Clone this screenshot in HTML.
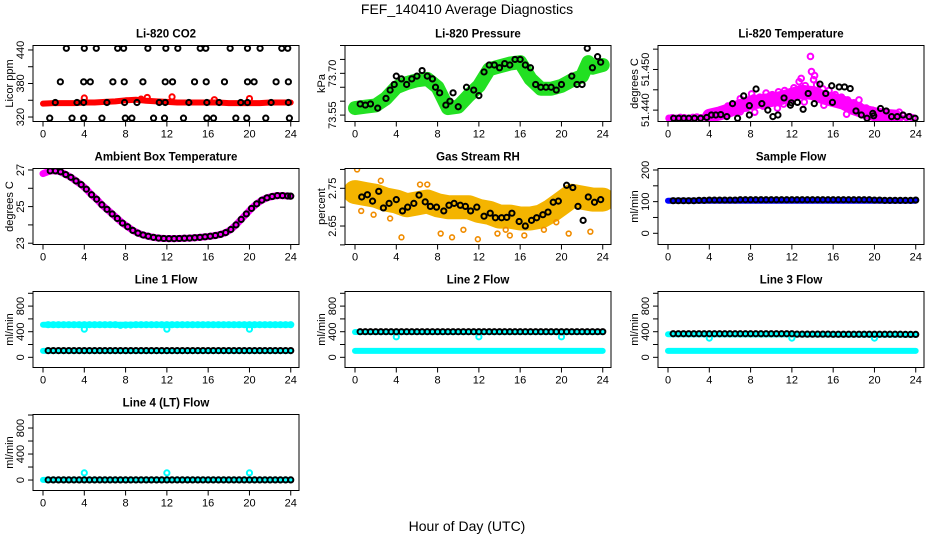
<!DOCTYPE html>
<html><head><meta charset="utf-8"><style>
html,body{margin:0;padding:0;background:#fff;}
svg{display:block;font-family:"Liberation Sans",Arial,sans-serif;}
</style></head><body>
<svg id="chart" width="936" height="540" viewBox="0 0 936 540" xmlns="http://www.w3.org/2000/svg">
<text x="467" y="14" font-size="14" text-anchor="middle">FEF_140410  Average Diagnostics</text>
<text x="467" y="531" font-size="14" text-anchor="middle">Hour of Day (UTC)</text>
</svg>
<script>
// ---------- data ----------
const xTicks=[0,4,8,12,16,20,24];
// CO2
const co2Hours440=[2.26,4.0,5.16,7.23,7.81,10.16,11.9,13.06,15.23,15.77,18.13,19.81,21.03,23.13,23.71];
const co2Hours380=[1.68,3.94,4.58,6.77,7.87,9.68,11.84,12.55,14.68,15.81,17.58,19.81,20.45,22.58,23.77];
const co2Hours346=[1.19,3.29,3.94,6.19,7.9,9.1,11.26,11.84,14.13,15.87,17.06,19.16,19.81,22.1,23.77];
const co2Hours318=[0.65,2.81,3.94,5.71,7.97,8.61,10.71,11.77,13.61,15.87,16.52,18.68,19.74,21.58,23.87];
const co2Levels=[443,383,346,318];
const co2BandHours=[0,1,2,3,4,5,6,7,8,9,10,11,12,13,14,15,16,17,18,19,20,21,22,23,24];
const co2Band=[344,345,345,345,346,346,347,348,350,351,349,348,347,346,346,346,346,346,345,345,345,345,346,346,346];
const co2RedHours=[4.0,9.5,10.1,12.5,16.6,20.0];
const co2Red=[354,352,355,356,351,353];
// Pressure
const presHours=[0.5,1,1.5,2.2,3,3.4,3.8,4,4.5,5,5.5,6,6.5,7,7.5,7.8,8.2,8.8,9.2,9.5,10,10.8,11.5,12,12.5,13,13.5,14,14.5,15,15.5,16,16.5,17,17.5,18,18.5,19,19.5,20,21,21.5,22,22.5,23,23.5,23.8];
const presVals=[73.59,73.586,73.59,73.575,73.61,73.64,73.66,73.69,73.68,73.66,73.68,73.69,73.71,73.69,73.68,73.65,73.63,73.586,73.60,73.63,73.58,73.65,73.64,73.62,73.705,73.73,73.73,73.72,73.735,73.73,73.75,73.75,73.73,73.72,73.66,73.65,73.65,73.65,73.64,73.66,73.69,73.66,73.66,73.79,73.72,73.76,73.74];
const presBandHours=[0,1,2,3,4,5,6,7,8,9,10,11,12,13,14,15,16,17,18,19,20,21,22,22.6,23,24];
const presBand=[73.575,73.58,73.585,73.61,73.65,73.665,73.675,73.68,73.65,73.575,73.58,73.62,73.655,73.715,73.725,73.735,73.74,73.68,73.645,73.645,73.655,73.675,73.69,73.74,73.72,73.73];
// Temperature
const tempHours=[0.55,1.04,1.53,2.02,2.57,3.16,3.75,4.2,4.63,5.11,5.7,6.25,6.74,7.33,7.88,7.88,8.53,9.09,9.67,10.16,10.65,11.24,11.86,11.95,12.54,13.09,13.58,14.17,14.72,15.28,15.86,15.93,16.58,17.1,17.65,18.21,18.73,19.28,19.84,19.93,20.59,21.14,21.66,22.21,22.77,23.36,23.94];
const tempVals=[51.4380,51.4380,51.4380,51.4380,51.4380,51.4380,51.4382,51.4388,51.4388,51.4389,51.4384,51.4416,51.4380,51.4435,51.4411,51.4388,51.4452,51.4416,51.4400,51.4384,51.4388,51.4430,51.4412,51.4418,51.4419,51.4402,51.4441,51.4416,51.4464,51.4441,51.4460,51.4419,51.4457,51.4457,51.4453,51.4398,51.4388,51.4380,51.4392,51.4386,51.4404,51.4398,51.4384,51.4384,51.4388,51.4384,51.4380];
const tempMagHours=[0.1,0.4,0.8,1.2,1.6,2.0,2.4,2.8,3.2,3.6,4.0,4.3,4.6,4.9,5.2,5.5,5.8,6.1,6.4,6.7,7.0,7.3,7.6,7.9,8.1,8.3,8.6,8.9,9.2,9.5,9.8,10.1,10.4,10.7,11.0,11.3,11.6,11.9,12.2,12.4,12.7,13.0,13.3,13.6,13.8,14.1,14.4,14.7,15.0,15.3,15.6,15.9,16.2,16.5,16.8,17.1,17.4,17.7,18.0,18.3,18.6,18.9,19.2,19.5,19.8,20.1,20.4,20.7,21.0,21.3,21.6,21.9,22.2,22.5,22.8,23.1,23.4,23.7,6.0,7.0,8.4,9.4,10.6,11.2,12.9,13.2,14.2,15.1,16.0,17.3,18.5,19.0,20.5,22.4,5.0,9.9,12.0,13.9];
const tempMag=[51.4380,51.4381,51.4380,51.4382,51.4381,51.4380,51.4382,51.4383,51.4381,51.4384,51.4386,51.4392,51.4383,51.4398,51.4390,51.4386,51.4410,51.4395,51.4402,51.4412,51.4396,51.4418,51.4405,51.4425,51.4440,51.4430,51.4415,51.4432,51.4410,51.4442,51.4425,51.4438,51.4420,51.4445,51.4430,51.4448,51.4425,51.4440,51.4455,51.4432,51.4470,51.4450,51.4460,51.4445,51.4532,51.4475,51.4462,51.4440,51.4452,51.4430,51.4448,51.4420,51.4438,51.4415,51.4432,51.4410,51.4425,51.4405,51.4418,51.4398,51.4410,51.4395,51.4405,51.4390,51.4400,51.4388,51.4395,51.4386,51.4392,51.4384,51.4390,51.4382,51.4388,51.4381,51.4386,51.4382,51.4384,51.4381,51.4400,51.4428,51.4395,51.4430,51.4405,51.4415,51.4478,51.4420,51.4485,51.4412,51.4435,51.4390,51.4425,51.4400,51.4385,51.4395,51.4398,51.4436,51.4428,51.4495];
const tempBandHours=[4,5,6,7,8,9,10,11,12,13,14,15,16,17,18,19,20,21,22];
const tempBand=[51.4386,51.4392,51.4400,51.4410,51.4418,51.4422,51.4425,51.4430,51.4438,51.4445,51.4442,51.4432,51.4425,51.4418,51.4405,51.4396,51.4390,51.4386,51.4384];
// Ambient box temperature
const ambHours=[0,0.7,1.2,1.7,2.2,2.7,3.2,3.7,4.2,4.7,5.2,5.7,6.2,6.7,7.2,7.7,8.2,8.7,9.2,9.7,10.2,10.7,11.2,11.7,12.2,12.7,13.2,13.7,14.2,14.7,15.2,15.7,16.2,16.7,17.2,17.7,18.2,18.7,19.2,19.7,20.2,20.7,21.2,21.7,22.2,22.7,23.2,23.7,24];
const ambVals=[26.8,26.95,26.95,26.9,26.75,26.6,26.4,26.2,25.95,25.65,25.4,25.1,24.85,24.6,24.35,24.1,23.9,23.7,23.55,23.45,23.38,23.32,23.28,23.26,23.25,23.25,23.26,23.27,23.28,23.3,23.32,23.35,23.38,23.42,23.48,23.58,23.75,24.0,24.3,24.6,24.9,25.15,25.35,25.48,25.55,25.6,25.6,25.58,25.57];
// Gas stream RH
const rhHours=[0.65,1.2,1.7,2.3,2.75,3.3,4,4.6,5.1,5.7,6.2,6.8,7.3,7.9,8.6,9.1,9.6,10.2,10.7,11.2,11.8,12.5,13.1,13.6,14.2,14.7,15.2,15.9,16.5,17.1,17.6,18.2,18.7,19.2,19.7,20.5,21.1,21.6,22.1,22.6,23.2,23.8];
const rhVals=[2.727,2.733,2.716,2.742,2.698,2.71,2.72,2.69,2.70,2.71,2.732,2.714,2.702,2.70,2.69,2.705,2.71,2.705,2.702,2.69,2.70,2.676,2.684,2.672,2.672,2.673,2.684,2.662,2.650,2.665,2.672,2.680,2.687,2.713,2.716,2.758,2.752,2.702,2.665,2.727,2.713,2.720];
const rhBandHours=[0,1,2,3,4,5,6,7,8,9,10,11,12,13,14,15,16,17,18,19,20,21,22,23,24];
const rhBand=[2.74,2.735,2.73,2.72,2.715,2.705,2.71,2.715,2.705,2.7,2.7,2.7,2.69,2.685,2.675,2.675,2.67,2.67,2.675,2.69,2.71,2.73,2.725,2.72,2.72];
const rhOutHours=[0.2,0.6,1.8,4.5,6.3,8.3,9.4,11.9,13.8,15.0,16.4,18.3,20.7,22.8,2.5,7.0,3.4,10.5,14.6,19.5];
const rhOut=[2.80,2.69,2.68,2.62,2.76,2.63,2.62,2.615,2.63,2.625,2.625,2.64,2.63,2.635,2.77,2.76,2.67,2.64,2.64,2.66];
// Flows
const flowHours=[0.5,1,1.5,2,2.5,3,3.5,4,4.5,5,5.5,6,6.5,7,7.5,8,8.5,9,9.5,10,10.5,11,11.5,12,12.5,13,13.5,14,14.5,15,15.5,16,16.5,17,17.5,18,18.5,19,19.5,20,20.5,21,21.5,22,22.5,23,23.5,24];
const sampleFlow=[103,103,103,103,103,104,104,105,105,105,105,105,105,106,106,106,106,106,106,106,106,106,106,106,106,106,106,106,106,106,106,106,106,106,106,106,106,106,106,105,105,104,104,104,104,104,104,105];
const line1Black=[105,105,105,105,105,105,105,105,105,105,105,105,105,105,105,105,105,105,105,105,105,105,105,105,105,105,105,105,105,105,105,105,105,105,105,105,105,105,105,105,105,105,105,105,105,105,105,105];
const line1CyanHi=[510,510,510,510,510,510,510,510,510,510,510,510,510,510,500,505,505,510,510,510,510,510,510,510,510,510,510,510,510,510,510,510,510,510,510,510,510,510,510,510,510,510,510,510,510,510,510,510];
const line2Black=[400,400,400,400,400,400,400,400,400,400,400,400,400,400,400,400,400,400,400,400,400,400,400,400,400,400,400,400,400,400,400,400,400,400,400,400,400,400,400,400,400,400,400,400,400,400,400,400];
const line3Black=[368,368,368,368,368,368,368,368,368,368,368,368,368,368,368,368,368,368,368,368,368,368,368,368,362,362,362,362,362,362,362,360,360,360,360,360,360,360,360,360,360,360,360,360,360,358,358,358];
const line4Black=[2,2,2,2,2,2,2,2,2,2,2,2,2,2,2,2,2,2,2,2,2,2,2,2,2,2,2,2,2,2,2,2,2,2,2,2,2,2,2,2,2,2,2,2,2,2,2,2];
const lowCyan=[100,100];
const dipHours=[4,12,20];
const line1Dips=[440,440,440];
const line2Dips=[320,320,320];
const line3Dips=[300,300,300];
const line4Spikes=[110,110,110];

// ---------- drawing ----------
const NS="http://www.w3.org/2000/svg";
const svg=document.getElementById('chart');
const XL=-0.97,XR=24.8,W=266,H=76;
const SW=2;
const colX=[33,345,658],rowY=[45.5,168.5,291.5,414.5];
function mk(tag,attrs,parent){const e=document.createElementNS(NS,tag);for(const k in attrs)e.setAttribute(k,attrs[k]);(parent||svg).appendChild(e);return e;}
function panel(name,col,row,y0,y1,title,ylab,ticks,labels){
  const L=colX[col],T=rowY[row];
  const g=mk('g',{});
  
  
  const sx=h=>L+(h-XL)/(XR-XL)*W;
  const sy=v=>T+H-(v-y0)/(y1-y0)*H;
  const clip='clip-'+name;
  const cp=mk('clipPath',{id:clip},g);mk('rect',{x:L,y:T,width:W,height:H},cp);
  const data=mk('g',{'clip-path':'url(#'+clip+')'},g);
  
  
  const box=mk('rect',{x:L,y:T,width:W,height:H,fill:'none',stroke:'#000','stroke-width':1},g);
  
  
  const t=mk('text',{x:L+W/2,y:T-8,'font-size':11.5,'font-weight':'bold','text-anchor':'middle'},g);
  t.textContent=title;
  
  
  const yl=mk('text',{transform:'translate('+(L-20)+','+(T+H/2)+') rotate(-90)','font-size':11,'text-anchor':'middle'},g);
  yl.textContent=ylab;
  
  
  const xa=mk('g',{},g);
  
  
  xTicks.forEach(h=>{mk('line',{x1:sx(h),x2:sx(h),y1:T+H,y2:T+H+5,stroke:'#000'},xa);
    const tl=mk('text',{x:sx(h),y:T+H+16,'font-size':11,'text-anchor':'middle'},xa);tl.textContent=h;
    
    });
  const ya=mk('g',{},g);
  
  
  ticks.forEach(v=>mk('line',{x1:L,x2:L-5,y1:sy(v),y2:sy(v),stroke:'#000'},ya));
  labels.forEach(v=>{const tl=mk('text',{transform:'translate('+(L-9)+','+sy(v)+') rotate(-90)','font-size':11,'text-anchor':'middle'},ya);tl.textContent=v;
    
    });
  return {sx,sy,g:data};
}
function pts(p,hs,vs,color,r,sw,name){const gg=mk('g',{},p.g);
  
  
  hs.forEach((h,i)=>mk('circle',{cx:p.sx(h),cy:p.sy(vs[i]),r:r,fill:'none',stroke:color,'stroke-width':sw},gg));}
function band(p,hs,vs,color,w,name){const d=hs.map((h,i)=>(i?'L':'M')+p.sx(h).toFixed(1)+','+p.sy(vs[i]).toFixed(1)).join('');
  const e=mk('path',{d:d,fill:'none',stroke:color,'stroke-width':w,'stroke-linejoin':'round','stroke-linecap':'round'},p.g);
  
  }
const rep=(arr,v)=>arr.map(()=>v);

let p=panel('co2',0,0,312,448,'Li-820 CO2','Licor ppm',[320,350,380,410,440],[320,380,440]);
band(p,co2BandHours,co2Band,'#ff0000',6,'co2-red-band');
pts(p,co2RedHours,co2Red,'#ff0000',2.6,SW,'co2-red-points');
[co2Hours440,co2Hours380,co2Hours346,co2Hours318].forEach((hs,k)=>pts(p,hs,rep(hs,co2Levels[k]),'#000',2.6,SW,'co2-black-points'));

p=panel('pressure',1,0,73.527,73.80,'Li-820 Pressure','kPa',[73.55,73.60,73.65,73.70,73.75,73.80],['73.55','73.70']);
band(p,presBandHours,presBand,'#22e022',14,'pressure-green-band');
pts(p,presHours,presVals,'#000',2.6,SW,'pressure-black-points');

p=panel('temperature',2,0,51.4372,51.4559,'Li-820 Temperature','degrees C',[51.440,51.445,51.450,51.455],['51.440','51.450']);
band(p,tempBandHours,tempBand,'#ff00ff',14,'temperature-magenta-band');
pts(p,tempMagHours,tempMag,'#ff00ff',2.8,SW,'temperature-magenta-points');
band(p,[0,3,4],[51.4381,51.4381,51.4384],'#ff00ff',5,'temperature-magenta-base');
pts(p,tempHours,tempVals,'#000',2.6,SW,'temperature-black-points');

p=panel('ambient',0,1,22.93,27.08,'Ambient Box Temperature','degrees C',[23,24,25,26,27],[23,25,27]);
band(p,ambHours,ambVals,'#ff00ff',7,'ambient-magenta-band');
pts(p,ambHours.slice(1),ambVals.slice(1),'#000',2.6,SW,'ambient-black-points');

p=panel('rh',1,1,2.601,2.8025,'Gas Stream RH','percent',[2.60,2.65,2.70,2.75,2.80],['2.65','2.75']);
band(p,rhBandHours,rhBand,'#f4b400',24,'rh-orange-band');
pts(p,rhOutHours,rhOut,'#f08c00',2.4,1.6,'rh-orange-points');
pts(p,rhHours,rhVals,'#000',2.6,SW,'rh-black-points');

p=panel('sample-flow',2,1,-35.4,204.7,'Sample Flow','ml/min',[0,50,100,150,200],[0,100,200]);
band(p,[0,24],[103,103],'#0000ff',6,'sample-flow-blue-band');
pts(p,flowHours,sampleFlow,'#000',2.6,SW,'sample-flow-black-points');

p=panel('line1-flow',0,2,-159,1028,'Line 1 Flow','ml/min',[0,200,400,600,800,1000],[0,400,800]);
band(p,[0,24],[510,510],'#00ffff',6,'line1-cyan-upper');
pts(p,dipHours,line1Dips,'#00ffff',2.6,SW,'line1-cyan-dips');
band(p,[0,24],lowCyan,'#00ffff',6,'line1-cyan-lower');
pts(p,flowHours,line1CyanHi,'#00ffff',2.6,SW,'line1-cyan-points');
pts(p,flowHours,line1Black,'#000',2.6,SW,'line1-black-points');

p=panel('line2-flow',1,2,-159,1028,'Line 2 Flow','ml/min',[0,200,400,600,800,1000],[0,400,800]);
band(p,[0,24],[395,395],'#00ffff',6,'line2-cyan-upper');
pts(p,dipHours,line2Dips,'#00ffff',2.6,SW,'line2-cyan-dips');
band(p,[0,24],lowCyan,'#00ffff',6,'line2-cyan-lower');
pts(p,flowHours,line2Black,'#000',2.6,SW,'line2-black-points');

p=panel('line3-flow',2,2,-159,1028,'Line 3 Flow','ml/min',[0,200,400,600,800,1000],[0,400,800]);
band(p,[0,24],[360,355],'#00ffff',6,'line3-cyan-upper');
pts(p,dipHours,line3Dips,'#00ffff',2.6,SW,'line3-cyan-dips');
band(p,[0,24],lowCyan,'#00ffff',6,'line3-cyan-lower');
pts(p,flowHours,line3Black,'#000',2.6,SW,'line3-black-points');

p=panel('line4-flow',0,3,-161,1008,'Line 4 (LT) Flow','ml/min',[0,200,400,600,800,1000],[0,400,800]);
band(p,[0,24],[2,2],'#00ffff',6,'line4-cyan-band');
pts(p,dipHours,line4Spikes,'#00ffff',2.6,SW,'line4-cyan-spikes');
pts(p,flowHours,line4Black,'#000',2.6,SW,'line4-black-points');
</script>
</body></html>
